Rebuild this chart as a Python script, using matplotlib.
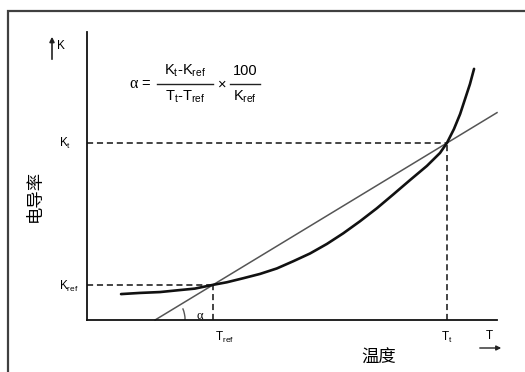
import matplotlib
matplotlib.use("Agg")
import matplotlib.pyplot as plt
from matplotlib.patches import Arc, Rectangle, FancyArrowPatch
from matplotlib.lines import Line2D

plt.rcParams['font.family'] = ['Liberation Sans', 'Noto Sans CJK SC', 'DejaVu Sans']
plt.rcParams['mathtext.fontset'] = 'custom'
plt.rcParams['mathtext.rm'] = 'Liberation Sans'
plt.rcParams['mathtext.it'] = 'Liberation Sans'
plt.rcParams['mathtext.default'] = 'regular'

# ---- data (schematic units: T 0..100, K 0..100) ----
T_ref, T_t = 30.7, 87.8
K_ref, K_t = 12.2, 61.5
curve_T = [8.3, 12.9, 17.8, 22.7, 26.3, 30.7, 34.1, 38.1, 42.2, 46.3, 50.3, 54.4, 58.5,
           62.5, 66.6, 70.7, 74.7, 78.8, 82.9, 86.1, 87.8, 89.5, 91.0, 92.2, 93.4, 94.4]
curve_K = [9.0, 9.4, 9.7, 10.4, 10.9, 12.2, 13.1, 14.5, 16.0, 17.9, 20.4, 23.1, 26.4,
           30.1, 34.3, 38.8, 43.6, 48.6, 53.5, 58.0, 61.5, 66.3, 71.5, 76.7, 81.9, 87.2]
line_T = [16.6, 100.0]
line_K = [0.0, 72.0]
x_label = "温度"
y_label = "电导率"

W, H = 525, 372
fig = plt.figure(figsize=(W / 100, H / 100), dpi=100)
fig.patch.set_facecolor('white')

def fx(px):
    return px / W

def fy(py):
    return 1 - py / H

# outer frame
fig.patches.append(Rectangle((fx(8), fy(400)), 1.2, fy(11) - fy(400), transform=fig.transFigure,
                             fill=False, edgecolor='#404040', linewidth=1.6))

ax = fig.add_axes([fx(87), fy(320), fx(497) - fx(87), fy(32) - fy(320)])
ax.set_xlim(0, 100)
ax.set_ylim(0, 100)
ax.set_facecolor('none')
for s in ['top', 'right']:
    ax.spines[s].set_visible(False)
for s in ['left', 'bottom']:
    ax.spines[s].set_linewidth(1.3)
    ax.spines[s].set_color('#111111')
ax.set_xticks([])
ax.set_yticks([])

# dashed guides
dash = dict(color='#111111', linewidth=1.1, linestyle=(0, (4, 2.5)))
ax.plot([0, T_t], [K_t, K_t], **dash)
ax.plot([T_t, T_t], [0, K_t], **dash)
ax.plot([0, T_ref], [K_ref, K_ref], **dash)
ax.plot([T_ref, T_ref], [0, K_ref], **dash)

# straight line and curve
ax.plot(line_T, line_K, color='#555555', linewidth=1.1, clip_on=False)
ax.plot(curve_T, curve_K, color='#111111', linewidth=1.9, clip_on=False,
        solid_capstyle='round', solid_joinstyle='round')

# alpha arc (radius ~30 px)
rx = 2 * 30 / 4.1
ry = 2 * 30 / 2.88
ax.add_patch(Arc((line_T[0], line_K[0]), rx, ry, theta1=0, theta2=31,
                 color='#555555', linewidth=1.0))
fig.text(fx(200), fy(316), "α", fontsize=9, ha='center', va='center',
         family=['Liberation Serif', 'DejaVu Serif'])

# tick labels
fig.text(fx(59), fy(143), r"$K_t$", fontsize=8.5, ha='left', va='center')
fig.text(fx(59), fy(286), r"$K_{ref}$", fontsize=8.5, ha='left', va='center')
fig.text(fx(224), fy(337), r"$T_{ref}$", fontsize=8.5, ha='center', va='center')
fig.text(fx(447), fy(337), r"$T_t$", fontsize=8.5, ha='center', va='center')

# axis arrows
fig.patches.append(FancyArrowPatch((fx(52), fy(62)), (fx(52), fy(34)),
                   transform=fig.transFigure, arrowstyle='-|>', mutation_scale=7,
                   color='#222222', linewidth=1.2))
fig.text(fx(57), fy(46), "K", fontsize=8.5, ha='left', va='center')
fig.patches.append(FancyArrowPatch((fx(477), fy(348)), (fx(504), fy(348)),
                   transform=fig.transFigure, arrowstyle='-|>', mutation_scale=7,
                   color='#222222', linewidth=1.0))
fig.text(fx(489), fy(336), "T", fontsize=8.5, ha='center', va='center')

# axis titles
fig.text(fx(379), fy(358), x_label, fontsize=12.5, ha='center', va='center',
         family=['Noto Sans CJK SC', 'DejaVu Sans'])
fig.text(fx(35), fy(196), y_label, fontsize=12.5, ha='center', va='center', rotation=90,
         family=['Noto Sans CJK SC', 'DejaVu Sans'])

# formula built from pieces
fs = 10.5
fig.text(fx(129), fy(84), "α", fontsize=fs + 1, ha='left', va='center',
         family=['Liberation Serif', 'DejaVu Serif'])
fig.text(fx(141), fy(84), "=", fontsize=fs, ha='left', va='center')
fig.text(fx(185), fy(71), r"$K_t$-$K_{ref}$", fontsize=fs, ha='center', va='center')
fig.text(fx(185), fy(97), r"$T_t$-$T_{ref}$", fontsize=fs, ha='center', va='center')
fig.lines.append(Line2D([fx(157), fx(213)], [fy(83.5), fy(83.5)], transform=fig.transFigure,
                        color='#222222', linewidth=1.0))
fig.text(fx(222), fy(85), "×", fontsize=fs, ha='center', va='center')
fig.text(fx(245), fy(71), "100", fontsize=fs, ha='center', va='center')
fig.text(fx(245), fy(97), r"$K_{ref}$", fontsize=fs, ha='center', va='center')
fig.lines.append(Line2D([fx(230), fx(260)], [fy(83.5), fy(83.5)], transform=fig.transFigure,
                        color='#222222', linewidth=1.0))

fig.savefig("out.png", dpi=100, facecolor='white')
